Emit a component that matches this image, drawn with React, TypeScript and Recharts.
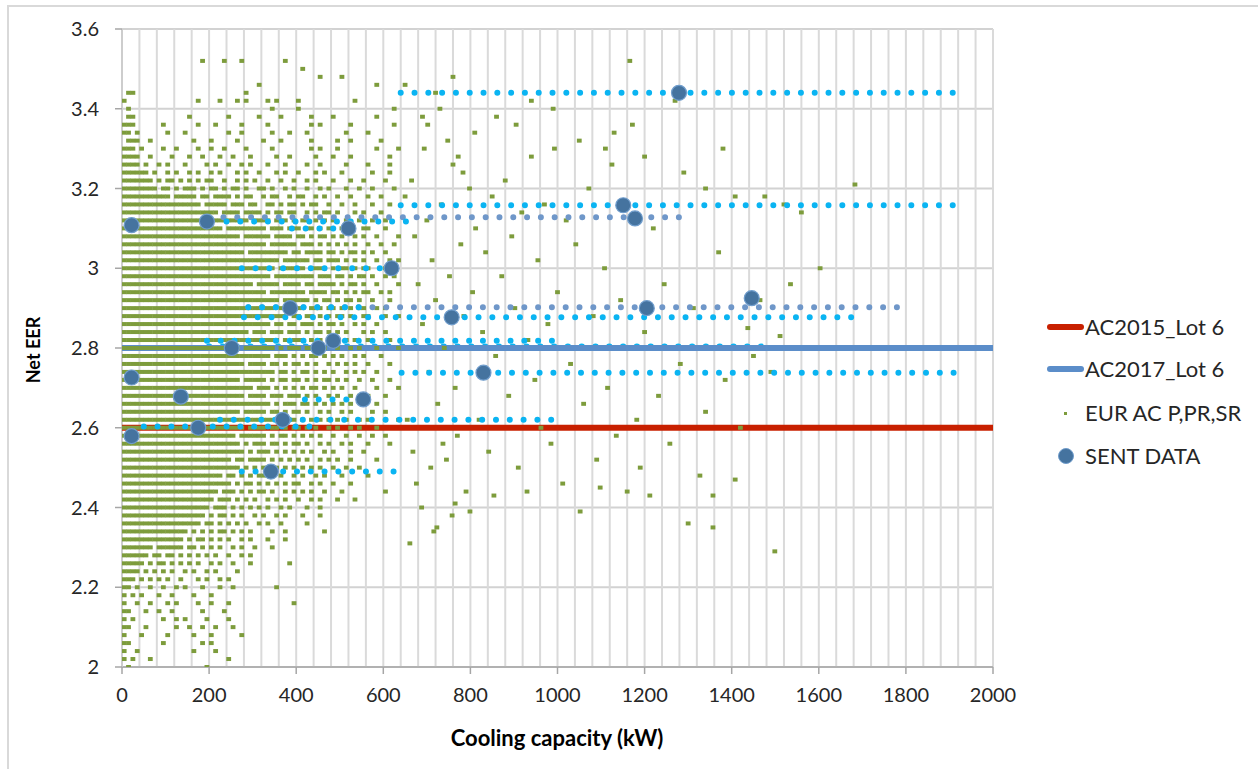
import { ScatterChart, Scatter, XAxis, YAxis, CartesianGrid, ReferenceLine } from 'recharts'

const xTicks = [0, 200, 400, 600, 800, 1000, 1200, 1400, 1600, 1800, 2000]
const xMinorTicks = [
  0, 40, 80, 120, 160, 200, 240, 280, 320, 360, 400, 440, 480, 520, 560, 600, 640, 680, 720, 760, 800,
  840, 880, 920, 960, 1000, 1040, 1080, 1120, 1160, 1200, 1240, 1280, 1320, 1360, 1400, 1440, 1480,
  1520, 1560, 1600, 1640, 1680, 1720, 1760, 1800, 1840, 1880, 1920, 1960, 2000,
]
const yTicks = [2, 2.2, 2.4, 2.6, 2.8, 3, 3.2, 3.4, 3.6]

// minimum requirement lines
const ac2015 = [{ x: 0, y: 2.6 }, { x: 2000, y: 2.6 }]
const ac2017 = [{ x: 0, y: 2.8 }, { x: 2000, y: 2.8 }]

// SENT DATA points [kW, EER]
const sentData: [number, number][] = [
  [22, 3.108], [195, 3.117], [520, 3.1], [619, 3.0], [386, 2.9], [757, 2.877], [1205, 2.9],
  [1446, 2.925], [485, 2.818], [252, 2.8], [451, 2.8], [830, 2.738], [22, 2.726], [135, 2.678],
  [554, 2.671], [369, 2.62], [175, 2.6], [22, 2.579], [342, 2.49], [1151, 3.158], [1178, 3.125],
  [1279, 3.44],
]

// dotted capacity ranges [EER, from kW, to kW]
const cyanUnder: [number, number, number][] = [[2.803, 200, 1480]]
const steelRanges: [number, number, number][] = [[3.128, 233, 1280], [2.902, 290, 1790]]
const cyanRanges: [number, number, number][] = [
  [3.44, 640, 1920], [3.158, 640, 1920], [3.117, 240, 657], [3.1, 390, 520], [3.0, 275, 619],
  [2.902, 290, 560], [2.877, 280, 1680], [2.818, 195, 1000], [2.738, 642, 1913], [2.671, 420, 550],
  [2.62, 225, 1000], [2.603, 50, 440], [2.49, 275, 627],
]

// EUR AC P,PR,SR : one char per 10 kW cell from 0 to 640 kW, '#' = unit present
const cellKw = 10
const eurRows: [number, string][] = [
  [3.52, '........ ........ ..#....# ...#.... .....#.. ........ ........ ........'],
  [3.5, '........ ........ ........ ........ ........ .#...... ........ ........'],
  [3.48, '........ ........ ........ ........ ........ .....#.. ..#..... ........'],
  [3.46, '........ ........ ........ .......# ........ ........ ........ ..#.....'],
  [3.44, '.##..... ........ ........ ....#... ........ ........ ........ ........'],
  [3.42, '#....... ........ .#....#. ..#.#... .#.#.... #....... .....#.. ........'],
  [3.4, '.#...... ........ ........ ........ ..#..... #....... ........ ......#.'],
  [3.38, '.##..... .......# ........ #......# ....#... ...#.... #....... ..#.....'],
  [3.36, '###..... .#...... .#...#.. ...#.... .#...... ...#.#.. ....#... ......#.'],
  [3.34, '##.#.... ..#...#. ........ #..#.... ..#...#. ..#..... ...#.... #.......'],
  [3.32, '.###..#. ........ #...#... ..#..... #...#... ...#.... .#..#... ...#....'],
  [3.3, '###.#... .#..#... .#..#..# ....#... ..#..... ...#.#.. .#...... ..#....#'],
  [3.28, '####..#. ...#...# ..#...#. .#...#.. ...#..#. ....#... #...#... .....#..'],
  [3.26, '####.#.. #.#...#. ...#.#.. #..#.#.. .#...#.. ..#..#.. ...#.... #....#..'],
  [3.24, '######.# ..#.#..# .#..#.#. ..#.#..# ...#.#.. #...#.#. ..#..... .#...#..'],
  [3.22, '#######. #.##.#.# .#.##..# ..#.#.#. .#..#..# ..#.#... #...#..# ....#...'],
  [3.2, '######## .##.#.## #.#.##.# .##.#..# #.#..#.# ..#..#.# ...#..#. .#....#.'],
  [3.18, '######## ###.#### #.##.### #.#.##.. #.##..#. ##..#.#. .#..#... #..#....'],
  [3.16, '######## ######## ##.##### .###.##. .##.#.## .#.##..# ..#..#.. .#...#..'],
  [3.14, '######## ######## ######.# ###.#### .#.##.## ..#.#.## .#...#.# ...#....'],
  [3.12, '######## ######## ######## #####.## ##.###.# .##.#.#. #..#..#. .#..#...'],
  [3.1, '######## ######## #######. ######## #.###.## #.##.#.# ..#.#..# #...#...'],
  [3.08, '######## ######## ######## ###.#### ##.####. ##.#.##. #.#..#.# ..#....#'],
  [3.06, '######## ######## ######## ######## #.###### .###.#.# .#.#.#.. #..#..#.'],
  [3.04, '######## ######## ######## ####.### ######.# #.####.# #.#.##.# .#..#...'],
  [3.02, '######## ######## ######## ######## ####.### ###.##.# ##.#.#.# ..#..#.#'],
  [3.0, '######## ######## ######## ######## ###.#### ##.####. #.##.#.# #...#...'],
  [2.98, '######## ######## ######## ######## ##.##### ####.### .##.#.## .#..#.#.'],
  [2.96, '######## ######## ######## ######.# ####.### #.##.### #.#.##.# ..#....#'],
  [2.94, '######## ######## ######## ######## #.###### ##.####. ##.#.#.# #..#.#..'],
  [2.92, '######## ######## ######## ######## ####.### ###.#.## .#.##.#. .#...#..'],
  [2.9, '######## ######## ######## ######## ###.#### ##.###.# #.#.#.## ..#.#...'],
  [2.88, '######## ######## ######## ######## ######.# #.##.#.# .##.#..# #...#..#'],
  [2.86, '######## ######## ######## ######## ##.##.## .###.#.# #.#..#.# ..#.....'],
  [2.84, '######## ######## ######## #####.## #.###.## #.#.##.# .#.#...# .#..#...'],
  [2.82, '######## ######## ######## ######## ####.#.# ##.#.#.# #..#.#.. #....#..'],
  [2.8, '######## ######## ######## ###.#### ###.#.## #.###.#. .#..#.#. ..#....#'],
  [2.78, '######## ######## ######## ######## ##.###.# .#.##.#. #.#..#.# ...#....'],
  [2.76, '######## ######## ######## ####.### #.##.#.# #.#.#..# .#.#.#.. #....#..'],
  [2.74, '######## ######## ######## ######## ###.##.# .##.#.#. #..#.#.# ..#.....'],
  [2.72, '######## ######## ######## ###.#### #.#.##.# #.#.#.## .#.#..#. .#...#..'],
  [2.7, '######## ######## ######## ######.# ##.#.#.# .#.##.#. #.#..#.. ..#....#'],
  [2.68, '######## ######## ######## ####.### #.###.## #.#.#..# .#..#.#. #...#...'],
  [2.66, '######## ######## ######## ######## ##.#.### .##.#.#. #.#.#..# ..#.....'],
  [2.64, '######## ######## ######## ###.#### #.##.#.# #.#..#.# ..#.#... .#..#...'],
  [2.62, '######## ######## ######## ######## ###.#.## .#.#.#.# .#.#..#. #...#..#'],
  [2.6, '######## ######## ######## ####.### #.##.#.# #.#.#..# .#..#.#. ..#.....'],
  [2.58, '######## ######## ######## ##.##### #.#.##.# .#.#.#.. #..#..#. .#..#...'],
  [2.56, '######## ######## ######## ###.#.## #.##.#.# #.#..#.# ..#.#... #....#..'],
  [2.54, '######## ######## ######## ####.#.# ##.#.#.# .#.#..#. #...#..# ........'],
  [2.52, '######## ######## ######## #.##.### #.#.#.#. #.#..#.# .#..#... ..#.....'],
  [2.5, '######## ######## ######## ###.#.#. ##.#.#.# .#.#.#.. #..#..#. ........'],
  [2.48, '######## ######## #######. ##.#.#.# #.#.#..# .#..#.#. ..#..... #.......'],
  [2.46, '######## ######## ######## #.#.##.# .#.#.#.# #..#.#.. #...#... ........'],
  [2.44, '######## ######## ######.# ##.#.#.# #.#..#.# .#.#..#. ..#..... ....#...'],
  [2.42, '######## ######## #####.## #.#.#.#. .#.#.#.. #..#.#.. .#...#.. ........'],
  [2.4, '######## ######## ####.### .#.#.#.# .#..#.#. ..#..#.. ........ ........'],
  [2.38, '######## ######## ###.#.## .#.#..#. #..#.#.. .#...#.. ........ ........'],
  [2.36, '######## ######## ##.##.#. #.#.#..# .#..#... ..#..... ........ ........'],
  [2.34, '######## #######. #.#.#.## .#.#.#.. ..#..#.. ......#. ........ ........'],
  [2.32, '######## ######.# .##.#.#. #..#.#.. .#...#.. ........ ........ ........'],
  [2.3, '#######. ######.# #.#.#.#. .#.#..#. ..#..... ........ ........ ........'],
  [2.28, '######.# #.##.#.# .#.#.#.. #..#.#.. ........ ........ ........ ........'],
  [2.26, '#####.#. ##.#.#.# .#..#.#. .#...#.. ......#. ........ ........ ........'],
  [2.24, '####.#.# .#.#..#. #..#.#.. ..#..... ........ ........ ........ ........'],
  [2.22, '###.#.#. #.#..#.. .#.#..#. #....... ........ ........ ........ ........'],
  [2.2, '##.#..#. .#..#.#. ..#...#. .#...... ...#.... ........ ........ ........'],
  [2.18, '#.#.#... #..#.... #...#... ........ ........ ........ ........ ........'],
  [2.16, '#..#..#. ..#.#... .#..#... #....... .......# ........ ........ ........'],
  [2.14, '##...#.. #..#.... ..#....# ........ ........ ........ ........ ........'],
  [2.12, '#.#..... .#..#.#. ...#.... #....... ........ ........ ........ ........'],
  [2.1, '##...#.. ....#..# ..#..#.. .#...... ........ ........ ........ ........'],
  [2.08, '#...#... ..#..... #...#... ...#.... ........ ........ ........ ........'],
  [2.06, '##...... .#...... ..#.#... ........ ........ ........ ........ ........'],
  [2.04, '#..#.... ........ #....#.. ........ ........ ........ ........ ........'],
  [2.02, '#.#...#. ........ ........ #....... ........ ........ ........ ........'],
  [2.0, '.#...... ........ ...#.... ........ ........ ........ ........ ........'],
]

// scattered units above 640 kW [kW, EER]
const eurSparse: [number, number][] = [
  [650, 3.18], [665, 3.22], [672, 3.08], [680, 2.96], [690, 2.86], [700, 3.12], [705, 2.74], [712, 3.02],
  [720, 2.92], [725, 2.66], [733, 3.16], [740, 2.8], [745, 2.52], [752, 2.98], [760, 3.26], [765, 2.7],
  [770, 2.58], [778, 3.06], [785, 2.88], [790, 2.44], [798, 3.2], [655, 2.62], [668, 2.54], [676, 2.46],
  [688, 2.4], [694, 3.3], [702, 3.36], [716, 2.34], [730, 3.4], [748, 3.32], [758, 2.38], [772, 3.28],
  [783, 3.24], [661, 2.31], [709, 2.5], [737, 2.56], [723, 2.35], [765, 2.41], [799, 2.39],
  [805, 2.94], [812, 3.1], [820, 2.62], [828, 2.84], [835, 3.04], [842, 2.54], [850, 3.18], [858, 2.78],
  [854, 2.43], [872, 2.98], [880, 3.22], [888, 2.68], [895, 3.08], [902, 2.9], [910, 2.5], [918, 3.14],
  [930, 2.44], [932, 2.82], [940, 3.28], [948, 2.72], [955, 3.02], [962, 2.6], [970, 3.16], [978, 2.86],
  [985, 2.56], [993, 3.3], [1000, 2.94], [1012, 2.46], [1020, 3.12], [1030, 2.76], [1042, 3.06],
  [1052, 2.39], [1060, 2.66], [1072, 3.2], [1082, 2.88], [1090, 2.52], [1098, 2.45], [1108, 3.0],
  [1115, 2.7], [1125, 3.26], [1135, 2.58], [1145, 2.92], [1160, 2.44], [1166, 3.52], [1172, 3.36],
  [1182, 2.62], [1190, 2.5], [1200, 2.84], [1212, 2.43], [1220, 3.1], [1232, 2.68], [1245, 2.96],
  [1258, 2.56], [1270, 3.42], [1282, 2.76], [1300, 2.36], [1312, 2.9], [1327, 2.48], [1340, 2.64],
  [1357, 2.43], [1357, 2.35], [1370, 3.04], [1385, 2.72], [1408, 2.47], [1408, 3.18], [1420, 2.6],
  [1437, 2.85], [1450, 2.78], [1465, 2.92], [1476, 3.18], [1490, 2.74], [1499, 2.29], [1511, 2.83],
  [1520, 3.16], [1535, 2.96], [1560, 3.14], [1603, 3.0], [1683, 3.21],
  [650, 3.46], [690, 3.38], [720, 3.44], [760, 3.48], [810, 3.34], [860, 3.38], [905, 3.36],
  [940, 3.42], [990, 3.4], [1050, 3.32], [1110, 3.3], [1130, 3.34], [1200, 3.28], [1290, 3.24],
  [1340, 3.2], [1380, 3.3],
]

const eurPoints = [
  ...eurRows.flatMap(([eer, cells]) =>
    cells
      .replace(/ /g, '')
      .split('')
      .flatMap((c, i) => (c === '#' ? [{ x: i * cellKw + cellKw / 2, y: eer }] : []))
  ),
  ...eurSparse.map(([x, y]) => ({ x, y })),
]
const sentPoints = sentData.map(([x, y]) => ({ x, y }))
const toSegment = ([y, from, to]: [number, number, number]) => [{ x: from, y }, { x: to, y }]

const RED = '#c82000'
const BLUE = '#5b8dc9'
const GREEN = '#7d9c3c'
const CYAN = '#0ab4f2'
const STEEL = '#6f97c9'
const FONT = 'Lato, "DejaVu Sans", sans-serif'

const NoDot = () => <g />
const GreenDash = (p: any) => <rect x={p.cx - 2.4} y={p.cy - 2} width={4.8} height={4} fill={GREEN} />
const SentDot = (p: any) => <circle cx={p.cx} cy={p.cy} r={7.5} fill="#45739f" stroke="#709dcc" strokeWidth={1.2} />

const dotted = (color: string, w = 6) => ({
  stroke: color,
  strokeWidth: w,
  strokeDasharray: '0 13.8',
  strokeLinecap: 'round' as const,
})

function Legend() {
  const items = [
    { label: 'AC2015_Lot 6', y: 327, kind: 'line', color: RED },
    { label: 'AC2017_Lot 6', y: 369, kind: 'line', color: BLUE },
    { label: 'EUR AC P,PR,SR', y: 413, kind: 'dash', color: GREEN },
    { label: 'SENT DATA', y: 456, kind: 'dot', color: '#45739f' },
  ]
  return (
    <>
      {items.map(it => (
        <div key={it.label}>
          {it.kind === 'line' && (
            <div style={{ position: 'absolute', left: 1047, top: it.y - 3, width: 37, height: 6, borderRadius: 3, background: it.color }} />
          )}
          {it.kind === 'dash' && (
            <div style={{ position: 'absolute', left: 1064, top: it.y - 1.5, width: 3, height: 3, background: it.color }} />
          )}
          {it.kind === 'dot' && (
            <div style={{ position: 'absolute', left: 1058, top: it.y - 8, width: 14, height: 14, borderRadius: 8, background: it.color, border: '1px solid #709dcc' }} />
          )}
          <div style={{ position: 'absolute', left: 1085, top: it.y - 14, fontFamily: FONT, fontSize: 22, lineHeight: '28px', color: '#262626', whiteSpace: 'nowrap' }}>
            {it.label}
          </div>
        </div>
      ))}
    </>
  )
}

export default function App() {
  return (
    <div style={{ position: 'absolute', left: 0, top: 0, width: 1258, height: 769, overflow: 'hidden', background: '#fff' }}>
      <div style={{ position: 'absolute', left: 7, top: 5, width: 1300, height: 800, border: '2px solid #d9d9d9' }} />
      <ScatterChart width={1258} height={769} margin={{ top: 29, right: 265, bottom: 72, left: 62 }}>
        <CartesianGrid vertical={false} stroke="#d2d2d2" strokeWidth={2} />
        {xMinorTicks.map(v => (
          <ReferenceLine key={'g' + v} x={v} stroke="#dadada" strokeWidth={2} zIndex={-50} />
        ))}
        <XAxis
          type="number"
          dataKey="x"
          domain={[0, 2000]}
          ticks={xTicks}
          height={30}
          tickSize={7}
          tickMargin={14}
          axisLine={{ stroke: '#a6a6a6', strokeWidth: 1.5 }}
          tickLine={{ stroke: '#a6a6a6', strokeWidth: 1.5 }}
          tick={{ fill: '#262626', fontSize: 20, fontFamily: FONT }}
          allowDataOverflow
        />
        <YAxis
          type="number"
          dataKey="y"
          domain={[2, 3.6]}
          ticks={yTicks}
          width={60}
          tickSize={7}
          tickMargin={16}
          axisLine={{ stroke: '#c8c8c8', strokeWidth: 1.5 }}
          tickLine={{ stroke: '#a6a6a6', strokeWidth: 1.5 }}
          tick={{ fill: '#262626', fontSize: 20, fontFamily: FONT }}
          allowDataOverflow
        />
        {cyanUnder.map((r, i) => (
          <Scatter key={'cu' + i} data={toSegment(r)} line={dotted(CYAN, 6.5)} shape={NoDot} isAnimationActive={false} />
        ))}
        <Scatter name="AC2015_Lot 6" data={ac2015} line={{ stroke: RED, strokeWidth: 6 }} shape={NoDot} isAnimationActive={false} />
        <Scatter name="AC2017_Lot 6" data={ac2017} line={{ stroke: BLUE, strokeWidth: 6 }} shape={NoDot} isAnimationActive={false} />
        <Scatter name="EUR AC P,PR,SR" data={eurPoints} shape={GreenDash} isAnimationActive={false} />
        {steelRanges.map((r, i) => (
          <Scatter key={'s' + i} data={toSegment(r)} line={dotted(STEEL)} shape={NoDot} isAnimationActive={false} />
        ))}
        {cyanRanges.map((r, i) => (
          <Scatter key={'c' + i} data={toSegment(r)} line={dotted(CYAN)} shape={NoDot} isAnimationActive={false} />
        ))}
        <Scatter name="SENT DATA" data={sentPoints} shape={SentDot} isAnimationActive={false} />
      </ScatterChart>
      <div style={{ position: 'absolute', left: 33, top: 350, transform: 'translate(-50%, -50%) rotate(-90deg)', fontFamily: FONT, fontWeight: 700, fontSize: 18, color: '#000', whiteSpace: 'nowrap' }}>
        Net EER
      </div>
      <div style={{ position: 'absolute', left: 557, top: 737, transform: 'translate(-50%, -50%)', fontFamily: FONT, fontWeight: 700, fontSize: 22, color: '#000', whiteSpace: 'nowrap' }}>
        Cooling capacity (kW)
      </div>
      <Legend />
    </div>
  )
}
